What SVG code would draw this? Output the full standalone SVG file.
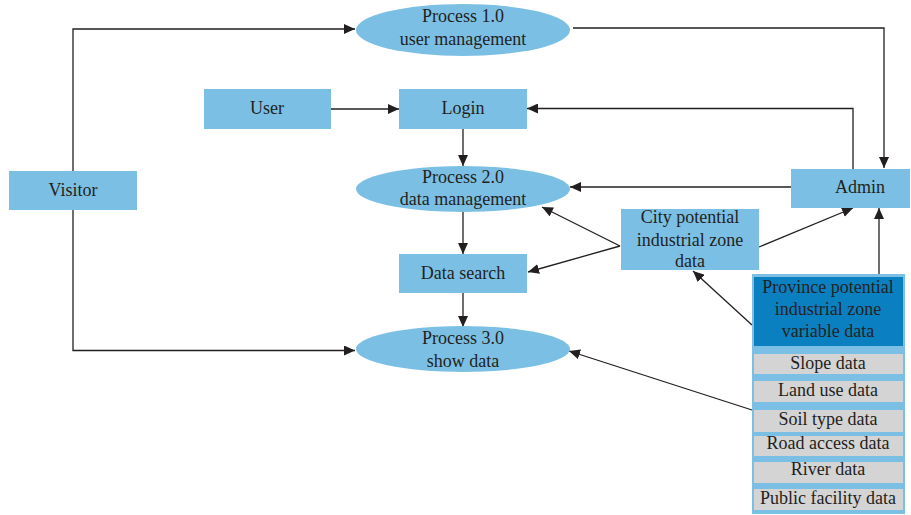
<svg xmlns="http://www.w3.org/2000/svg" width="911" height="515" viewBox="0 0 911 515">
  <style>
    .box { fill: #7bc0e4; }
    .proc { fill: #7bc0e4; }
    .dark { fill: #0a80c0; }
    .row { fill: #d4d4d4; }
    .lbl { font-family: "Liberation Serif", "Times New Roman", serif; font-size: 18px; fill: #231f20; text-anchor: middle; }
    .edge { fill: none; stroke: #231f20; stroke-width: 1.3; marker-end: url(#arrow); }
  </style>
  <defs>
    <marker id="arrow" markerUnits="userSpaceOnUse" markerWidth="11" markerHeight="10" refX="11" refY="5" orient="auto">
      <path d="M0,0 L11,5 L0,10 Z" fill="#231f20"/>
    </marker>
  </defs>
  <rect width="911" height="515" fill="#ffffff"/>

  <g id="connectors">
    <!-- Visitor to Process 1.0 and Process 3.0 -->
    <polyline class="edge" points="73,171 73,29 355,29"/>
    <polyline class="edge" points="73,210 73,350.5 355,350.5"/>
    <!-- Process 1.0 to Admin -->
    <polyline class="edge" points="573,28 884,28 884,168"/>
    <!-- User to Login -->
    <line class="edge" x1="331" y1="109" x2="399" y2="109"/>
    <!-- Admin to Login -->
    <polyline class="edge" points="853,169 853,108.5 527,108.5"/>
    <!-- Login to Process 2.0 -->
    <line class="edge" x1="463" y1="129" x2="463" y2="166"/>
    <!-- Admin to Process 2.0 -->
    <line class="edge" x1="791" y1="187" x2="570" y2="187"/>
    <!-- Process 2.0 to Data search -->
    <line class="edge" x1="463" y1="212" x2="463" y2="254"/>
    <!-- Data search to Process 3.0 -->
    <line class="edge" x1="463" y1="293" x2="463" y2="327"/>
    <!-- City data to Process 2.0, Data search, Admin -->
    <line class="edge" x1="620" y1="246" x2="542" y2="207"/>
    <line class="edge" x1="620" y1="246" x2="528" y2="272"/>
    <line class="edge" x1="759" y1="247" x2="853" y2="208"/>
    <!-- Province data to Admin, City data, Process 3.0 -->
    <line class="edge" x1="879" y1="277" x2="879" y2="208"/>
    <line class="edge" x1="752" y1="325" x2="693" y2="271"/>
    <line class="edge" x1="752" y1="410" x2="569" y2="351"/>
  </g>

  <g id="process1">
    <ellipse class="proc" cx="463" cy="30" rx="107" ry="26"/>
    <text class="lbl" x="463" y="22">Process 1.0</text>
    <text class="lbl" x="463" y="45">user management</text>
  </g>

  <g id="user">
    <rect class="box" x="204" y="89" width="127" height="40"/>
    <text class="lbl" x="267" y="114">User</text>
  </g>

  <g id="login">
    <rect class="box" x="399" y="89" width="128" height="40"/>
    <text class="lbl" x="463" y="114">Login</text>
  </g>

  <g id="visitor">
    <rect class="box" x="9" y="171" width="128" height="39"/>
    <text class="lbl" x="73" y="196">Visitor</text>
  </g>

  <g id="process2">
    <ellipse class="proc" cx="463" cy="189" rx="107" ry="23"/>
    <text class="lbl" x="463" y="183">Process 2.0</text>
    <text class="lbl" x="463" y="205">data management</text>
  </g>

  <g id="admin">
    <rect class="box" x="791" y="169" width="119" height="39"/>
    <text class="lbl" x="860" y="193">Admin</text>
  </g>

  <g id="city-data">
    <rect class="box" x="621" y="209" width="138" height="61"/>
    <text class="lbl" x="690" y="223">City potential</text>
    <text class="lbl" x="690" y="246">industrial zone</text>
    <text class="lbl" x="690" y="267">data</text>
  </g>

  <g id="data-search">
    <rect class="box" x="399" y="254" width="128" height="39"/>
    <text class="lbl" x="463" y="279">Data search</text>
  </g>

  <g id="process3">
    <ellipse class="proc" cx="463" cy="349" rx="107" ry="23"/>
    <text class="lbl" x="463" y="344">Process 3.0</text>
    <text class="lbl" x="463" y="367">show data</text>
  </g>

  <g id="province-data">
    <rect class="box" x="752" y="274" width="153" height="240"/>
    <rect class="dark" x="754" y="277" width="149" height="69"/>
    <text class="lbl" x="828" y="293">Province potential</text>
    <text class="lbl" x="828" y="315">industrial zone</text>
    <text class="lbl" x="828" y="337">variable data</text>
    <rect class="row" x="754" y="354" width="149" height="20"/>
    <text class="lbl" x="828" y="369">Slope data</text>
    <rect class="row" x="754" y="381" width="149" height="21"/>
    <text class="lbl" x="828" y="396">Land use data</text>
    <rect class="row" x="754" y="410" width="149" height="22"/>
    <text class="lbl" x="828" y="425">Soil type data</text>
    <rect class="row" x="754" y="436" width="149" height="20"/>
    <text class="lbl" x="828" y="449">Road access data</text>
    <rect class="row" x="754" y="462" width="149" height="21"/>
    <text class="lbl" x="828" y="475">River data</text>
    <rect class="row" x="754" y="489" width="149" height="21"/>
    <text class="lbl" x="828" y="504">Public facility data</text>
  </g>
</svg>
